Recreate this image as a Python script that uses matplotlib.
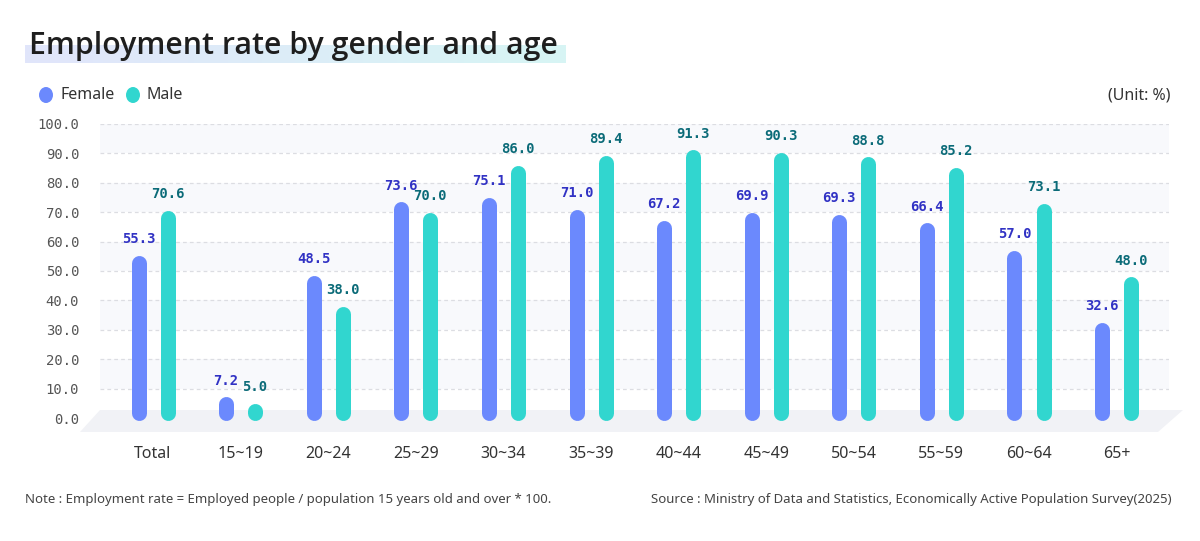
import matplotlib
matplotlib.use("Agg")
import matplotlib.pyplot as plt
import numpy as np
from matplotlib.patches import Polygon, Ellipse
from matplotlib.colors import LinearSegmentedColormap

categories = ["Total", "15~19", "20~24", "25~29", "30~34", "35~39", "40~44",
              "45~49", "50~54", "55~59", "60~64", "65+"]
female = [55.3, 7.2, 48.5, 73.6, 75.1, 71.0, 67.2, 69.9, 69.3, 66.4, 57.0, 32.6]
male = [70.6, 5.0, 38.0, 70.0, 86.0, 89.4, 91.3, 90.3, 88.8, 85.2, 73.1, 48.0]
yticks = [0, 10, 20, 30, 40, 50, 60, 70, 80, 90, 100]

W, H = 1200, 541
fig = plt.figure(figsize=(W / 100, H / 100), dpi=100)

# axes geometry in pixels
x_left, x_right = 100, 1169
y0_px, y100_px = 418, 124
y_bottom_px = 432
ppu = (y0_px - y100_px) / 100.0
ax = fig.add_axes([x_left / W, (H - y_bottom_px) / H, (x_right - x_left) / W,
                   (y_bottom_px - y100_px) / H])
ax.set_ylim(-(y_bottom_px - y0_px) / ppu, 100)
spacing = 87.6
first = 153
ax.set_xlim((x_left - first) / spacing, (x_right - first) / spacing)
for s in ax.spines.values():
    s.set_visible(False)
ax.set_facecolor("none")
ax.tick_params(length=0)

# alternating background bands
for k in range(1, 10, 2):
    ax.axhspan(yticks[k], yticks[k + 1], color="#f8f9fc", zorder=0, lw=0)
for t in yticks[1:]:
    ax.axhline(t, color="#dcdde2", lw=0.9, ls=(0, (3, 2.5)), zorder=1)

# floor parallelogram (figure pixel coords)
floor = Polygon([[100 / W, (H - 410) / H], [1183 / W, (H - 410) / H],
                 [1158 / W, (H - 432) / H], [80 / W, (H - 432) / H]],
                closed=True, transform=fig.transFigure, facecolor="#f1f2f6",
                edgecolor="none", zorder=-5)
fig.patches.append(floor)

# bars as round-capped lines
bar_px = 15
lw_pt = bar_px * 72 / 100
r_units = (bar_px / 2) / ppu
off = 14.5 / spacing
x = np.arange(len(categories))
fc, mc = "#6b89fd", "#31d6cf"
for xs, vals, col, tcol in [(x - off, female, fc, "#3132c4"), (x + off, male, mc, "#0b6b78")]:
    for xi, v in zip(xs, vals):
        top = v - r_units
        bot = min(r_units - 0.9, top)
        ax.plot([xi, xi], [bot, top], color=col, lw=lw_pt, solid_capstyle="round",
                zorder=3, clip_on=False)
        ax.annotate(f"{v:.1f}", (xi, v), xytext=(0, 6.5), textcoords="offset points",
                    ha="center", va="bottom", fontsize=10, color=tcol,
                    family="DejaVu Sans Mono", fontweight="bold", zorder=4)

ax.set_yticks(yticks)
ax.set_yticklabels([f"{t:.1f}" for t in yticks], family="DejaVu Sans Mono",
                   fontsize=10, color="#555555")
ax.tick_params(axis="y", pad=15)
ax.set_xticks(x)
ax.set_xticklabels(categories, fontsize=11.5, color="#333333", family="Noto Sans")
ax.tick_params(axis="x", pad=10)

# title with gradient highlight
grad = LinearSegmentedColormap.from_list("g", ["#e1e5fb", "#d7f5f4"])
hax = fig.add_axes([25 / W, (H - 63) / H, (566 - 25) / W, 18 / H], zorder=-2)
hax.imshow(np.linspace(0, 1, 256).reshape(1, -1), aspect="auto", cmap=grad,
           extent=[0, 1, 0, 1])
hax.axis("off")
fig.text(29 / W, (H - 46) / H, "Employment rate by gender and age", fontsize=21.8,
         color="#1e1e1e", family="Open Sans", va="center", ha="left", fontweight="semibold")

# legend
for cx, col, lab in [(46, fc, "Female"), (133, mc, "Male")]:
    fig.patches.append(Ellipse((cx / W, (H - 95) / H), 14 / W, 16 / H,
                               transform=fig.transFigure,
                               facecolor=col, edgecolor="none"))
    fig.text((cx + 14) / W, (H - 95) / H, lab, fontsize=11.5, color="#333333",
             family="Noto Sans", va="center", ha="left")
fig.text(1170 / W, (H - 95) / H, "(Unit: %)", fontsize=11.5, color="#333333",
         family="Noto Sans", va="center", ha="right")

# footer
fig.text(25 / W, (H - 500) / H,
         "Note : Employment rate = Employed people / population 15 years old and over * 100.",
         fontsize=9.5, color="#444444", family="Noto Sans", va="center", ha="left")
fig.text(1172 / W, (H - 500) / H,
         "Source : Ministry of Data and Statistics, Economically Active Population Survey(2025)",
         fontsize=9.5, color="#444444", family="Noto Sans", va="center", ha="right")

fig.savefig("out.png", dpi=100)
